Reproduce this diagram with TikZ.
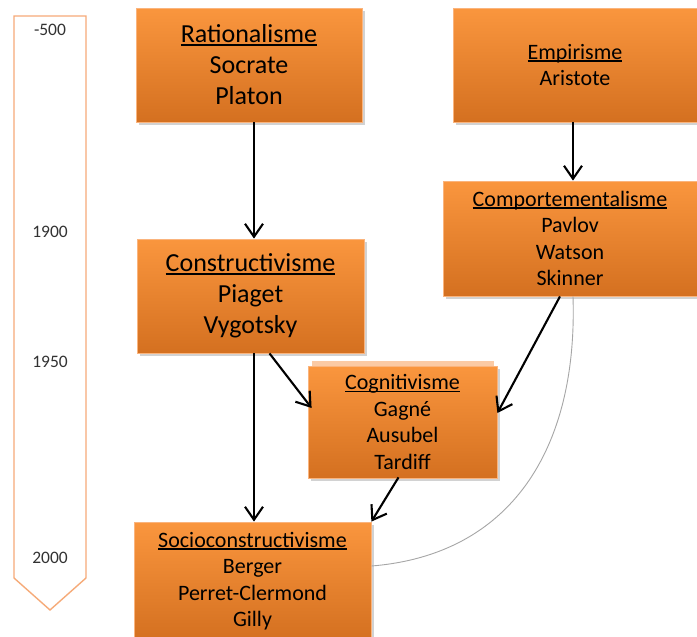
\documentclass[tikz,border=0pt]{standalone}
\usepackage{fontspec}
\setmainfont{Carlito}
\usetikzlibrary{arrows.meta,shadows,calc}
\definecolor{boxtop}{RGB}{250,150,62}
\definecolor{boxbot}{RGB}{212,112,32}
\definecolor{boxrim}{RGB}{250,180,125}
\definecolor{tlcol}{RGB}{246,170,120}
\definecolor{tltext}{RGB}{50,50,50}
\newcommand\myul[1]{\setbox0\hbox{#1}\rlap{\rule[-0.11em]{\wd0}{0.06em}}\box0}
\tikzset{
  box/.style={draw=boxrim, line width=0.8pt, top color=boxtop, bottom color=boxbot,
    inner sep=0pt, align=center, text=black,
    drop shadow={shadow xshift=2.5pt, shadow yshift=-3pt, opacity=0.35}},
  bigtxt/.style={font=\fontsize{26}{31}\selectfont},
  smalltxt/.style={font=\fontsize{22}{26.5}\selectfont},
  arr/.style={draw=black, line width=2.1pt, -{Straight Barb[length=13pt,width=18pt]}},
  tlline/.style={draw=tlcol, line width=1.4pt},
  tllabel/.style={text=tltext, font=\fontsize{17.5}{20}\selectfont, inner sep=0pt}
}
\begin{document}
\begin{tikzpicture}[x=1pt,y=-1pt]
\useasboundingbox (0,0) rectangle (697,637);
\fill[white] (0,0) rectangle (697,637);
% timeline
\draw[tlline] (14,16) -- (86,16) -- (86,578) -- (50,610) -- (14,578) -- cycle;
\node[tllabel] (t1) at (50,30) {-500};
\node[tllabel] (t2) at (50,232) {1900};
\node[tllabel] (t3) at (50,362) {1950};
\node[tllabel] (t4) at (50,558) {2000};
% boxes
\fill[boxrim!70] (312,361) rectangle (494,470);
\node[box,bigtxt,minimum width=226pt,minimum height=114pt] (rat) at (249,65)
  {\myul{Rationalisme}\\Socrate\\Platon};
\node[box,smalltxt,minimum width=244pt,minimum height=114pt] (emp) at (575,65)
  {\myul{Empirisme}\\Aristote};
\node[box,smalltxt,minimum width=254pt,minimum height=115pt] (comp) at (570,238.5)
  {\myul{Comportementalisme}\\Pavlov\\Watson\\Skinner};
\node[box,bigtxt,minimum width=227pt,minimum height=114pt] (cons) at (250.5,296)
  {\myul{Constructivisme}\\Piaget\\Vygotsky};
\node[box,smalltxt,minimum width=189pt,minimum height=112pt] (cog) at (402.5,422)
  {\myul{Cognitivisme}\\Gagné\\Ausubel\\Tardiff};
\node[box,smalltxt,minimum width=237pt,minimum height=118pt] (soc) at (252.5,581)
  {\myul{Socioconstructivisme}\\Berger\\Perret-Clermond\\Gilly};
% connectors
\draw[arr] ([xshift=5pt]rat.south) -- ([xshift=5pt]rat.south |- cons.north);
\draw[arr] ([xshift=-2pt]emp.south) -- ([xshift=-2pt]emp.south |- comp.north);
\draw[arr] ([xshift=3.5pt]cons.south) -- ([xshift=3.5pt]cons.south |- soc.north);
\draw[arr] ([xshift=19pt]cons.south) -- ([xshift=4pt,yshift=14pt]cog.west);
\draw[arr] ([xshift=-10pt]comp.south) -- ([yshift=9pt]cog.east);
\draw[arr] ([xshift=-4pt,yshift=1pt]cog.south) -- (soc.north east);
\draw[gray!70, line width=0.9pt] ([xshift=3pt]comp.south) .. controls (578,450) and (510,555) .. ([yshift=15pt]soc.east);
\end{tikzpicture}
\end{document}
